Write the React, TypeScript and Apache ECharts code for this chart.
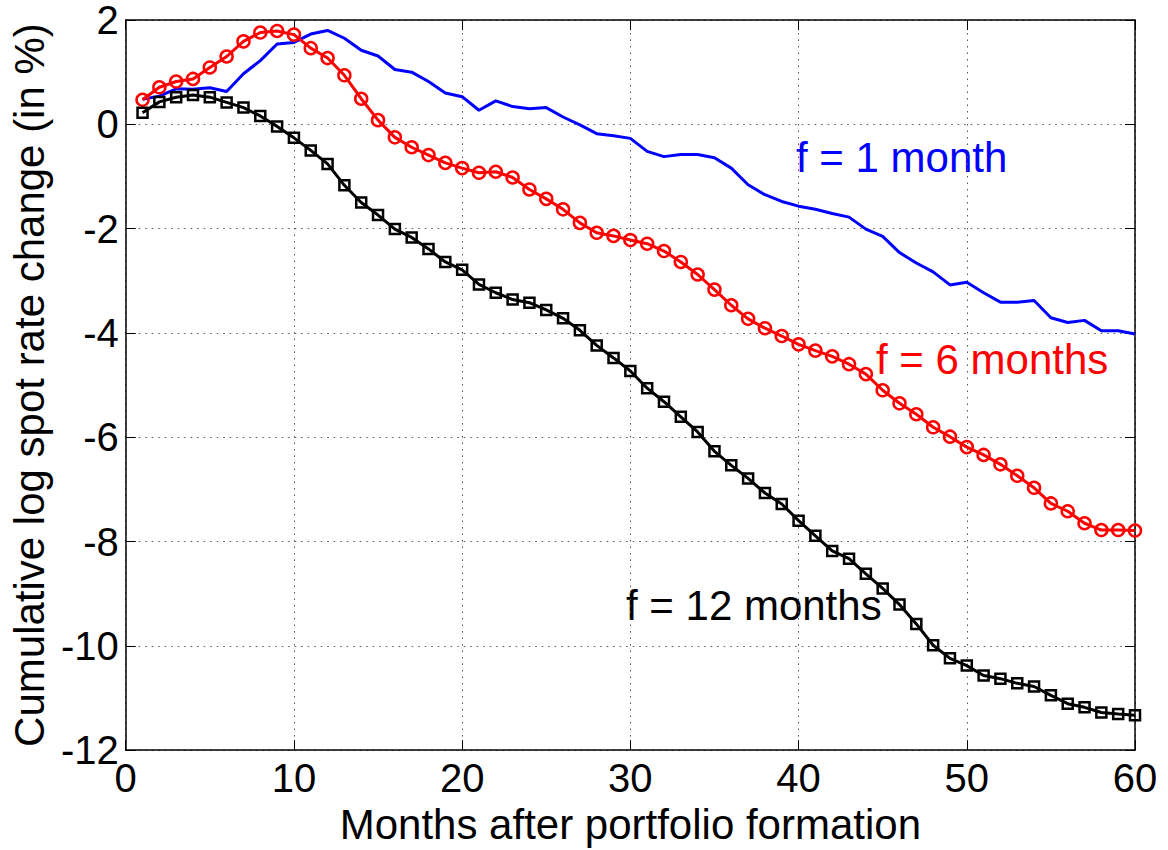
import React, { useEffect, useRef } from "react";
import * as echarts from "echarts";

const months: number[] = Array.from({ length: 60 }, (_, i) => i + 1);

const f1Month: number[] = [
  0.48, 0.54, 0.68, 0.67, 0.7, 0.63, 0.97, 1.22, 1.54, 1.57,
  1.73, 1.8, 1.65, 1.42, 1.31, 1.05, 1.0, 0.82, 0.6, 0.53,
  0.27, 0.45, 0.34, 0.3, 0.32, 0.14, -0.01, -0.18, -0.22, -0.27,
  -0.52, -0.62, -0.58, -0.58, -0.64, -0.84, -1.16, -1.35, -1.48, -1.57,
  -1.63, -1.71, -1.78, -2.01, -2.15, -2.46, -2.66, -2.83, -3.08, -3.03,
  -3.23, -3.41, -3.41, -3.38, -3.71, -3.8, -3.76, -3.96, -3.96, -4.02,
];

const f6Months: number[] = [
  0.47, 0.71, 0.82, 0.87, 1.09, 1.3, 1.59, 1.76, 1.79, 1.72,
  1.46, 1.27, 0.94, 0.49, 0.08, -0.25, -0.44, -0.59, -0.74, -0.84,
  -0.93, -0.91, -1.02, -1.25, -1.43, -1.63, -1.89, -2.08, -2.14, -2.22,
  -2.29, -2.43, -2.64, -2.88, -3.17, -3.47, -3.73, -3.91, -4.06, -4.22,
  -4.34, -4.45, -4.6, -4.79, -5.1, -5.35, -5.56, -5.81, -5.99, -6.19,
  -6.34, -6.52, -6.74, -6.97, -7.27, -7.42, -7.65, -7.78, -7.78, -7.79,
];

const f12Months: number[] = [
  0.22, 0.43, 0.52, 0.56, 0.52, 0.42, 0.32, 0.16, -0.04, -0.26,
  -0.5, -0.76, -1.17, -1.5, -1.74, -2.01, -2.17, -2.39, -2.64, -2.79,
  -3.07, -3.23, -3.36, -3.42, -3.56, -3.72, -3.95, -4.24, -4.48, -4.73,
  -5.06, -5.32, -5.61, -5.9, -6.27, -6.54, -6.79, -7.07, -7.28, -7.6,
  -7.89, -8.18, -8.33, -8.62, -8.9, -9.21, -9.58, -9.99, -10.24, -10.38,
  -10.57, -10.63, -10.72, -10.78, -10.95, -11.11, -11.18, -11.28, -11.31, -11.33,
];

const xTicks = { min: 0, max: 60, interval: 10 };
const yTicks = { min: -12, max: 2, interval: 2 };

const seriesNames = ["f = 1 month", "f = 6 months", "f = 12 months"];
const xTitle = "Months after portfolio formation";
const yTitle = "Cumulative log spot rate change (in %)";

const FONT = "'Liberation Sans', Arial, Helvetica, sans-serif";

export default function App() {
  const ref = useRef<HTMLDivElement>(null);

  useEffect(() => {
    if (!ref.current) return;
    const chart = echarts.init(ref.current, undefined, { renderer: "svg" });
    const pair = (arr: number[]) => months.map((m, i) => [m, arr[i]]);

    const gridLine = {
      show: true,
      lineStyle: { color: "#555", width: 1, type: [1.5, 5] as any },
    };

    const baseX = {
      type: "value" as const,
      min: xTicks.min,
      max: xTicks.max,
      interval: xTicks.interval,
      axisLine: { show: true, onZero: false, lineStyle: { color: "#000", width: 1.5 } },
      axisTick: { show: true, inside: true, length: 10, lineStyle: { color: "#000", width: 1 } },
      minorTick: { show: false },
    };
    const baseY = {
      type: "value" as const,
      min: yTicks.min,
      max: yTicks.max,
      interval: yTicks.interval,
      axisLine: { show: true, onZero: false, lineStyle: { color: "#000", width: 1.5 } },
      axisTick: { show: true, inside: true, length: 10, lineStyle: { color: "#000", width: 1 } },
    };

    chart.setOption({
      animation: false,
      backgroundColor: "#fff",
      grid: { left: 125, right: 33, top: 19.5, bottom: 95, containLabel: false },
      xAxis: [
        {
          ...baseX,
          position: "bottom",
          name: xTitle,
          nameLocation: "middle",
          nameGap: 47,
          nameTextStyle: { fontSize: 42, color: "#000", fontFamily: FONT },
          axisLabel: { show: true, margin: 8, fontSize: 40, color: "#000", fontFamily: FONT },
          splitLine: gridLine,
        },
        {
          ...baseX,
          position: "top",
          axisLabel: { show: false },
          splitLine: { show: false },
        },
      ],
      yAxis: [
        {
          ...baseY,
          position: "left",
          name: yTitle,
          nameLocation: "middle",
          nameGap: 72,
          nameTextStyle: { fontSize: 42, color: "#000", fontFamily: FONT },
          axisLabel: {
            show: true,
            margin: 7,
            fontSize: 40,
            lineHeight: 34,
            color: "#000",
            fontFamily: FONT,
          },
          splitLine: gridLine,
        },
        {
          ...baseY,
          position: "right",
          axisLabel: { show: false },
          splitLine: { show: false },
        },
      ],
      series: [
        {
          name: seriesNames[0],
          type: "line",
          data: pair(f1Month),
          showSymbol: false,
          symbol: "none",
          lineStyle: { color: "#0000ff", width: 3 },
          itemStyle: { color: "#0000ff" },
          z: 2,
        },
        {
          name: seriesNames[1],
          type: "line",
          data: pair(f6Months),
          symbol: "circle",
          symbolSize: 12,
          showAllSymbol: true,
          lineStyle: { color: "#ff0000", width: 3 },
          itemStyle: { color: "rgba(255,255,255,0)", borderColor: "#ff0000", borderWidth: 2.5 },
          z: 3,
        },
        {
          name: seriesNames[2],
          type: "line",
          data: pair(f12Months),
          symbol: "rect",
          symbolSize: 10,
          showAllSymbol: true,
          lineStyle: { color: "#000000", width: 3 },
          itemStyle: { color: "rgba(255,255,255,0)", borderColor: "#000000", borderWidth: 2.5 },
          z: 4,
        },
      ],
      graphic: [
        {
          type: "text",
          left: 796,
          top: 160 - 24,
          style: { text: seriesNames[0], fill: "#0000ff", font: `42px ${FONT}` },
        },
        {
          type: "text",
          left: 876,
          top: 362 - 24,
          style: { text: seriesNames[1], fill: "#ff0000", font: `42px ${FONT}` },
        },
        {
          type: "text",
          left: 626,
          top: 608 - 24,
          style: { text: seriesNames[2], fill: "#000000", font: `42px ${FONT}` },
        },
      ],
    });

    return () => chart.dispose();
  }, []);

  return (
    <div
      ref={ref}
      style={{ position: "fixed", left: 0, top: 0, width: 1168, height: 850, background: "#fff" }}
    />
  );
}
